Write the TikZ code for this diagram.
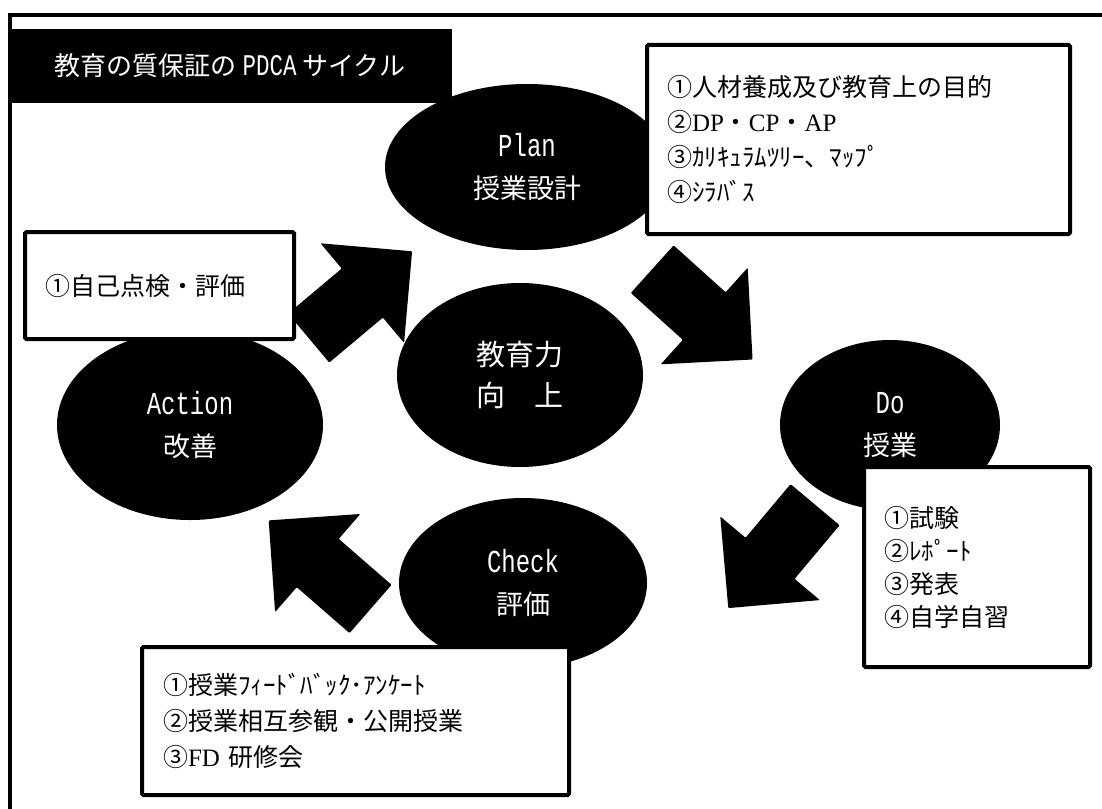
\documentclass[tikz,border=0pt]{standalone}
\usepackage{fontspec}
\usepackage{tikz}
\usetikzlibrary{positioning, shapes.geometric}
\newfontfamily\jpfont{Noto Sans CJK JP}
\newfontfamily\latmono[FakeStretch=0.75]{Liberation Mono}
\newfontfamily\latserif{Liberation Serif}
\newcommand{\boxfont}{\jpfont\fontsize{25}{35}\selectfont}
\newcommand{\ovalfont}{\jpfont\fontsize{27}{42}\selectfont}
\newcommand{\titlefont}{\jpfont\fontsize{26}{30}\selectfont}
\newcommand{\ovalen}[1]{{\latmono\fontsize{32}{42}\selectfont #1}}
\newcommand{\boxen}[1]{{\latserif #1}}
\tikzset{
  oval/.style={ellipse, fill=black, text=white, inner sep=0pt, align=center, font=\ovalfont},
  notebox/.style={draw=black, line width=4pt, fill=white, rounded corners=1.5pt, anchor=north west, inner xsep=20pt, inner ysep=0pt, align=left, font=\boxfont},
  blockarrow/.pic={\fill[black, rounded corners=1pt] (-67,-32) -- (3,-32) -- (3,-65) -- (68,0) -- (3,65) -- (3,32) -- (-67,32) -- cycle;}
}

\begin{document}
\begin{tikzpicture}[x=1pt, y=-1pt]
	\useasboundingbox (0,0) rectangle (1102,808);

	% frame
	\draw[line width=4pt] (1110,15) -- (10,15) -- (10,820);

	% block arrows of the cycle
	\pic[rotate=40] at (360,295) {blockarrow};
	\pic[rotate=-42] at (702,314) {blockarrow};
	\pic[rotate=-130] at (772,556) {blockarrow};
	\pic[rotate=139] at (320,565) {blockarrow};

	\node[oval, minimum width=284, minimum height=166] (plan) at (527,167) {\ovalen{Plan}\\授業設計};
	\node[oval, minimum width=246, minimum height=184, font=\jpfont\fontsize{29}{41}\selectfont] (core) at (520,375) {教育力\\向　上};
	\node[oval, minimum width=220, minimum height=170] (do) at (890,425) {\ovalen{Do}\\授業};
	\node[oval, minimum width=248, minimum height=170] (check) at (523,583) {\ovalen{Check}\\評価};
	\node[oval, minimum width=266, minimum height=190] (act) at (190,425) {\ovalen{Action}\\改善};

	\node[notebox, minimum width=423, minimum height=189, text width=383] (planbox) at (645,43)
		{①人材養成及び教育上の目的\\②\boxen{DP}・\boxen{CP}・\boxen{AP}\\③ｶﾘｷｭﾗﾑﾂﾘｰ、ﾏｯﾌﾟ\\④ｼﾗﾊﾞｽ};
	\node[notebox, minimum width=226, minimum height=200, text width=186, font=\jpfont\fontsize{25}{33}\selectfont] (dobox) at (862,465)
		{①試験\\②ﾚﾎﾟｰﾄ\\③発表\\④自学自習};
	\node[notebox, minimum width=427, minimum height=148, text width=385, font=\jpfont\fontsize{25}{36}\selectfont] (checkbox) at (140,645)
		{①授業ﾌｨｰﾄﾞﾊﾞｯｸ･ｱﾝｹｰﾄ\\②授業相互参観・公開授業\\③\boxen{FD} 研修会};
	\node[notebox, minimum width=269, minimum height=107, text width=229] (actbox) at (23,230)
		{①自己点検・評価};

	\node[fill=black, text=white, minimum width=444, minimum height=74, font=\titlefont] (title) at (230,66)
		{教育の質保証の {\latmono\fontsize{30}{30}\selectfont PDCA} サイクル};

\end{tikzpicture}
\end{document}
